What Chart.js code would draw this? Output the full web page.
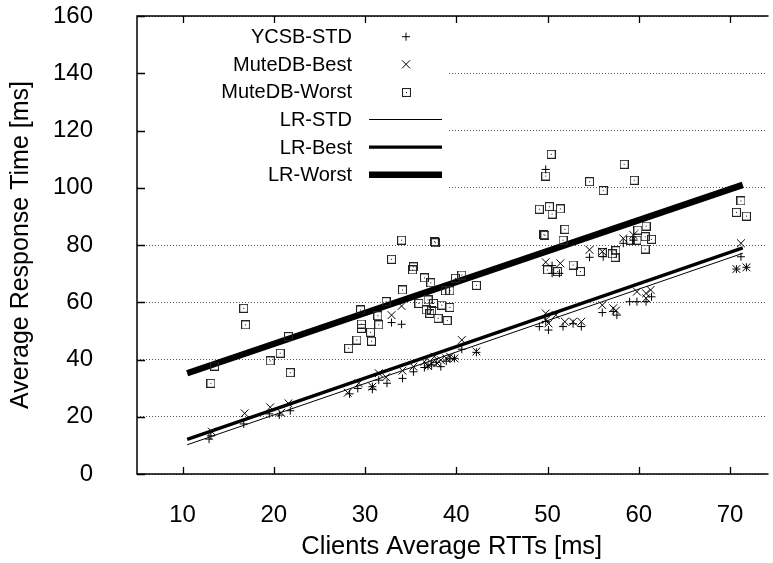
<!DOCTYPE html>
<html lang="en">
<head>
<meta charset="utf-8" />
<title>Average Response Time vs Clients RTT</title>
<style>
  html, body { margin: 0; padding: 0; background: #fff; }
</style>
</head>
<body>
<canvas id="grafico" width="773" height="563"></canvas>

<script src="https://cdn.jsdelivr.net/npm/chart.js@4.4.0/dist/chart.umd.min.js"></script>
<script>
// ticks
const xTicks = [10, 20, 30, 40, 50, 60, 70];
const yTicks = [0, 20, 40, 60, 80, 100, 120, 140, 160];

// YCSB-STD  (+)   [rtt, response]
const ycsbStd = [
  [13.1, 13.3], [12.9, 12.2], [16.7, 17.5], [19.5, 21.0], [20.6, 20.6], [21.8, 22.1],
  [28.3, 28.0], [29.2, 29.9], [30.8, 29.6], [30.8, 30.5], [31.5, 32.8], [32.4, 31.7],
  [34.1, 33.4], [35.3, 35.7], [36.5, 37.2], [36.9, 37.7], [37.3, 38.1], [38.3, 37.5],
  [37.8, 39.0], [38.9, 39.4], [39.3, 40.2], [39.8, 40.4], [40.6, 43.6], [42.2, 42.5],
  [32.9, 52.9], [34.0, 52.3], [49.8, 106.4], [50.5, 72.8], [50.5, 70.1], [51.3, 70.1],
  [54.6, 75.7], [56.1, 75.9], [58.3, 80.6], [59.4, 81.7], [49.1, 51.5], [50.1, 50.3],
  [49.8, 53.3], [51.7, 51.5], [52.8, 52.5], [53.7, 51.5], [56.0, 56.4], [57.6, 55.5],
  [57.2, 56.8], [59.0, 60.2], [59.8, 60.2], [60.8, 60.2], [61.4, 61.9], [71.2, 75.9],
  [70.7, 71.6], [71.8, 72.2]
];

// MuteDB-Best  (x)
const muteBest = [
  [13.2, 14.8], [16.8, 21.2], [19.6, 23.3], [20.8, 21.4], [21.6, 24.7], [28.1, 28.4],
  [29.3, 31.7], [30.8, 30.5], [31.5, 35.2], [32.3, 33.8], [34.1, 36.1], [35.3, 37.5],
  [36.5, 39.2], [36.9, 37.7], [37.3, 38.7], [37.6, 41.0], [37.9, 38.7], [38.3, 39.8],
  [38.9, 40.4], [39.3, 41.0], [39.8, 40.4], [40.6, 46.8], [42.2, 42.8], [32.9, 55.5],
  [34.0, 58.7], [49.8, 74.0], [51.4, 73.6], [54.6, 78.3], [56.0, 77.7], [58.3, 82.3],
  [59.4, 83.5], [49.8, 56.1], [49.8, 53.8], [50.9, 55.5], [50.1, 52.6], [51.9, 53.2],
  [52.8, 53.2], [53.7, 53.2], [56.0, 59.0], [57.2, 57.9], [57.5, 57.1], [59.8, 63.7],
  [60.8, 63.1], [61.3, 64.3], [60.8, 61.4], [71.2, 80.6], [70.7, 71.6], [71.8, 72.2]
];

// MuteDB-Worst  (dotted square)
const muteWorst = [
  [16.7, 57.9], [16.9, 52.1], [13.5, 37.7], [13.1, 31.7], [19.6, 39.5], [20.7, 42.2],
  [21.8, 35.4], [21.6, 48.0], [34.0, 81.7], [37.7, 80.8], [37.6, 81.2], [32.9, 75.0],
  [35.3, 72.4], [35.2, 71.3], [36.5, 68.5], [37.2, 66.8], [39.9, 68.4], [40.6, 69.5],
  [42.2, 65.9], [34.1, 64.3], [38.8, 64.0], [39.3, 64.0], [32.3, 60.2], [35.9, 59.6],
  [36.9, 60.8], [37.5, 59.6], [38.4, 59.0], [39.3, 58.2], [36.7, 57.3], [37.3, 57.1],
  [37.1, 56.1], [38.0, 54.4], [39.0, 53.6], [29.5, 57.3], [31.4, 55.3], [29.6, 52.4],
  [29.6, 50.9], [31.5, 52.1], [30.6, 49.5], [30.7, 46.4], [29.1, 46.8], [28.2, 43.9],
  [50.4, 111.7], [49.8, 104.1], [58.4, 108.2], [59.5, 102.6], [54.6, 102.1], [56.1, 99.0],
  [49.1, 92.5], [50.2, 93.4], [50.5, 90.8], [51.4, 92.6], [51.9, 85.5], [49.7, 83.4],
  [49.6, 83.6], [51.7, 81.7], [50.0, 71.3], [51.1, 70.7], [52.8, 73.0], [53.6, 70.7],
  [56.0, 77.3], [57.1, 76.9], [57.4, 75.7], [57.5, 78.0], [59.1, 81.7], [59.8, 81.7],
  [59.9, 85.2], [60.8, 86.6], [60.7, 82.9], [61.4, 82.0], [60.7, 78.6], [71.2, 95.4],
  [70.7, 91.4], [71.8, 90.1]
];

// linear regressions (end points)
const lrStd = [[10.5, 10.2], [71.4, 77.1]];
const lrBest = [[10.5, 12.1], [71.4, 79.0]];
const lrWorst = [[10.5, 35.2], [71.4, 101.0]];

const FONT = "'Liberation Sans', Arial, Helvetica, sans-serif";
const toXY = arr => arr.map(p => ({ x: p[0], y: p[1] }));

// square with a dot in the middle
function cuadrito() {
  const c = document.createElement('canvas');
  c.width = 9; c.height = 9;
  const g = c.getContext('2d');
  g.strokeStyle = '#222';
  g.lineWidth = 1.1;
  g.strokeRect(0.5, 0.5, 8, 8);
  g.fillStyle = '#111';
  g.fillRect(4, 4, 1, 1);
  return c;
}
const sq = cuadrito();

const leyenda = [
  { text: 'YCSB-STD', kind: 'plus' },
  { text: 'MuteDB-Best', kind: 'cross' },
  { text: 'MuteDB-Worst', kind: 'square' },
  { text: 'LR-STD', kind: 'line', w: 1 },
  { text: 'LR-Best', kind: 'line', w: 3.2 },
  { text: 'LR-Worst', kind: 'line', w: 6.5 }
];

const marco = {
  id: 'marco',
  beforeDatasetsDraw(chart) {
    // opaque key box hides the grid behind it
    const { ctx, chartArea: a } = chart;
    ctx.save();
    ctx.fillStyle = '#fff';
    ctx.fillRect(a.left + 1, a.top + 1, 448 - a.left, 193 - a.top);
    ctx.restore();
  },
  afterDatasetsDraw(chart) {
    const { ctx, chartArea: a, scales } = chart;
    const xs = scales.x, ys = scales.y;
    ctx.save();
    ctx.strokeStyle = '#000';
    ctx.lineWidth = 1.5;
    ctx.beginPath();
    ctx.moveTo(a.right + 2, a.top); ctx.lineTo(a.left, a.top);
    ctx.lineTo(a.left, a.bottom); ctx.lineTo(a.right + 2, a.bottom);
    ctx.stroke();
    ctx.lineWidth = 1.3;
    ctx.beginPath();
    xTicks.forEach(v => {
      const px = Math.round(xs.getPixelForValue(v)) + 0.5;
      ctx.moveTo(px, a.bottom); ctx.lineTo(px, a.bottom - 7);
      ctx.moveTo(px, a.top); ctx.lineTo(px, a.top + 7);
    });
    yTicks.forEach(v => {
      const py = Math.round(ys.getPixelForValue(v)) + 0.5;
      ctx.moveTo(a.left, py); ctx.lineTo(a.left + 8, py);
    });
    ctx.stroke();

    // key
    ctx.font = '20px ' + FONT;
    ctx.textAlign = 'right';
    ctx.textBaseline = 'middle';
    ctx.fillStyle = '#000';
    leyenda.forEach((it, i) => {
      const y = 36.7 + i * 27.6;
      ctx.fillText(it.text, 352, y + 1);
      ctx.strokeStyle = '#000';
      if (it.kind === 'plus') {
        ctx.lineWidth = 1;
        ctx.beginPath();
        ctx.moveTo(402, y); ctx.lineTo(410, y);
        ctx.moveTo(406, y - 4); ctx.lineTo(406, y + 4);
        ctx.stroke();
      } else if (it.kind === 'cross') {
        ctx.lineWidth = 1;
        ctx.beginPath();
        ctx.moveTo(402, y - 4); ctx.lineTo(410, y + 4);
        ctx.moveTo(402, y + 4); ctx.lineTo(410, y - 4);
        ctx.stroke();
      } else if (it.kind === 'square') {
        ctx.drawImage(sq, 402, Math.round(y) - 4);
      } else {
        ctx.lineWidth = it.w;
        ctx.beginPath();
        ctx.moveTo(369, y); ctx.lineTo(442, y);
        ctx.stroke();
      }
    });
    ctx.restore();
  }
};

new Chart(document.getElementById('grafico').getContext('2d'), {
  type: 'scatter',
  data: {
    datasets: [
      {
        label: 'YCSB-STD', data: toXY(ycsbStd),
        pointStyle: 'cross', pointRadius: 4, pointBorderWidth: 1,
        borderColor: '#000', backgroundColor: '#000'
      },
      {
        label: 'MuteDB-Best', data: toXY(muteBest),
        pointStyle: 'crossRot', pointRadius: 5.5, pointBorderWidth: 1,
        borderColor: '#000', backgroundColor: '#000'
      },
      {
        label: 'MuteDB-Worst', data: toXY(muteWorst),
        pointStyle: sq, pointRadius: 4.5
      },
      {
        label: 'LR-STD', data: toXY(lrStd), showLine: true, pointRadius: 0,
        borderColor: '#000', borderWidth: 1
      },
      {
        label: 'LR-Best', data: toXY(lrBest), showLine: true, pointRadius: 0,
        borderColor: '#000', borderWidth: 3.2
      },
      {
        label: 'LR-Worst', data: toXY(lrWorst), showLine: true, pointRadius: 0,
        borderColor: '#000', borderWidth: 6.5
      }
    ]
  },
  options: {
    responsive: false,
    animation: false,
    layout: { padding: { top: 16, right: 1, left: 0, bottom: 0 } },
    plugins: { legend: { display: false }, tooltip: { enabled: false } },
    scales: {
      x: {
        type: 'linear', min: 5, max: 74,
        afterBuildTicks: s => { s.ticks = xTicks.map(v => ({ value: v })); },
        afterFit: s => { s.height = 89; s.paddingLeft = 0; s.paddingRight = 0; },
        grid: { display: false },
        border: { display: false },
        ticks: { font: { family: FONT, size: 24 }, color: '#000', padding: 19, maxRotation: 0 },
        title: {
          display: true, text: 'Clients Average RTTs [ms]', color: '#000',
          font: { family: FONT, size: 25.5 }, padding: { top: 0, bottom: 1 }
        }
      },
      y: {
        min: 0, max: 160,
        afterBuildTicks: s => { s.ticks = yTicks.map(v => ({ value: v })); },
        afterFit: s => { s.width = 137; s.paddingTop = 0; s.paddingBottom = 0; },
        grid: { color: '#555', lineWidth: 1, drawTicks: false },
        border: { display: false, dash: [1, 2] },
        ticks: { font: { family: FONT, size: 24 }, color: '#000', padding: 44 },
        title: {
          display: true, text: 'Average Response Time [ms]', color: '#000',
          font: { family: FONT, size: 25 }, padding: { top: 6, bottom: 0 }
        }
      }
    }
  },
  plugins: [marco]
});
</script>
</body>
</html>
